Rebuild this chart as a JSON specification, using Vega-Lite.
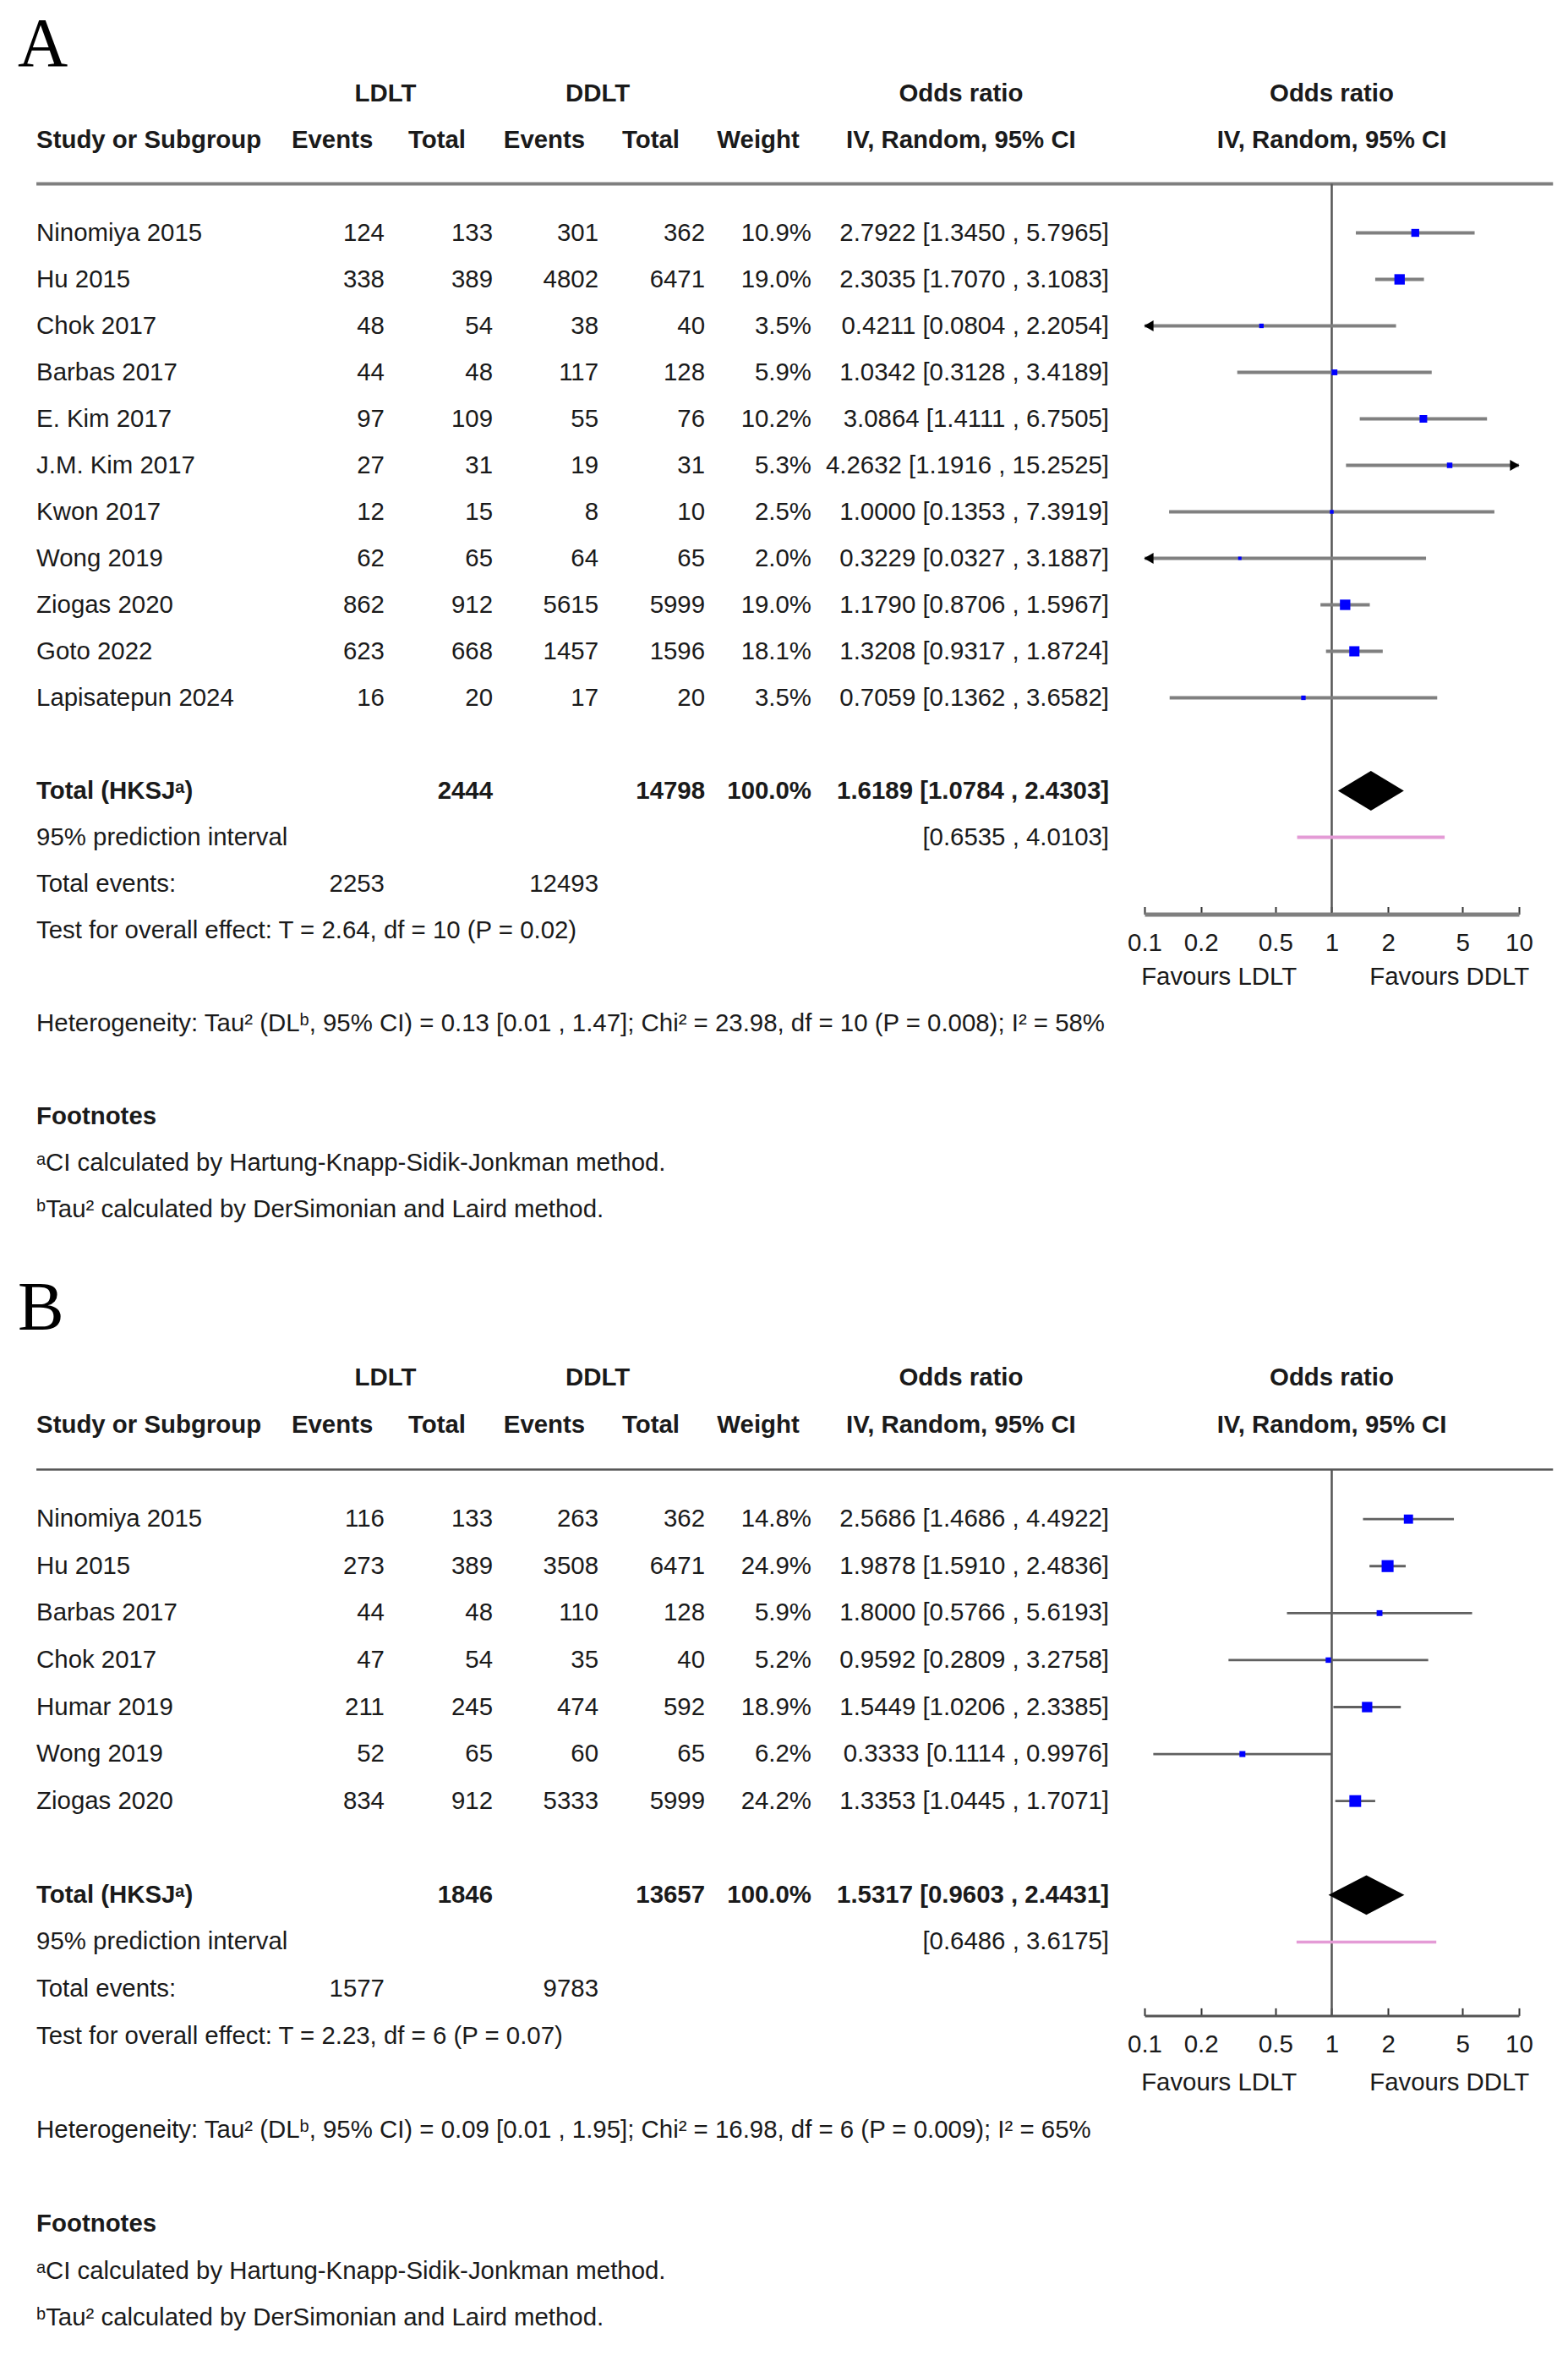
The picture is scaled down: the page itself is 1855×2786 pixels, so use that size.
{
"$schema":"https://vega.github.io/schema/vega-lite/v6.json",
"background":"white",
"padding":{"left":0,"top":11,"right":0,"bottom":0},
"bounds":"flush",
"columns":2,
"spacing":{"row":89,"column":0},
"datasets":{
"studiesA":[
{"study":"Ninomiya 2015","ev1":124,"tot1":133,"ev2":301,"tot2":362,"weight":0.109,"or":2.7922,"lo":1.3450,"hi":5.7965,"ci":"2.7922 [1.3450 , 5.7965]"},
{"study":"Hu 2015","ev1":338,"tot1":389,"ev2":4802,"tot2":6471,"weight":0.190,"or":2.3035,"lo":1.7070,"hi":3.1083,"ci":"2.3035 [1.7070 , 3.1083]"},
{"study":"Chok 2017","ev1":48,"tot1":54,"ev2":38,"tot2":40,"weight":0.035,"or":0.4211,"lo":0.0804,"hi":2.2054,"ci":"0.4211 [0.0804 , 2.2054]"},
{"study":"Barbas 2017","ev1":44,"tot1":48,"ev2":117,"tot2":128,"weight":0.059,"or":1.0342,"lo":0.3128,"hi":3.4189,"ci":"1.0342 [0.3128 , 3.4189]"},
{"study":"E. Kim 2017","ev1":97,"tot1":109,"ev2":55,"tot2":76,"weight":0.102,"or":3.0864,"lo":1.4111,"hi":6.7505,"ci":"3.0864 [1.4111 , 6.7505]"},
{"study":"J.M. Kim 2017","ev1":27,"tot1":31,"ev2":19,"tot2":31,"weight":0.053,"or":4.2632,"lo":1.1916,"hi":15.2525,"ci":"4.2632 [1.1916 , 15.2525]"},
{"study":"Kwon 2017","ev1":12,"tot1":15,"ev2":8,"tot2":10,"weight":0.025,"or":1.0000,"lo":0.1353,"hi":7.3919,"ci":"1.0000 [0.1353 , 7.3919]"},
{"study":"Wong 2019","ev1":62,"tot1":65,"ev2":64,"tot2":65,"weight":0.020,"or":0.3229,"lo":0.0327,"hi":3.1887,"ci":"0.3229 [0.0327 , 3.1887]"},
{"study":"Ziogas 2020","ev1":862,"tot1":912,"ev2":5615,"tot2":5999,"weight":0.190,"or":1.1790,"lo":0.8706,"hi":1.5967,"ci":"1.1790 [0.8706 , 1.5967]"},
{"study":"Goto 2022","ev1":623,"tot1":668,"ev2":1457,"tot2":1596,"weight":0.181,"or":1.3208,"lo":0.9317,"hi":1.8724,"ci":"1.3208 [0.9317 , 1.8724]"},
{"study":"Lapisatepun 2024","ev1":16,"tot1":20,"ev2":17,"tot2":20,"weight":0.035,"or":0.7059,"lo":0.1362,"hi":3.6582,"ci":"0.7059 [0.1362 , 3.6582]"}
],
"sumA":[{"tot1":2444,"tot2":14798,"weight":1,"ev1":2253,"ev2":12493,"lo":1.0784,"or":1.6189,"hi":2.4303,"ci":"1.6189 [1.0784 , 2.4303]","plo":0.6535,"phi":4.0103,"pi_text":"[0.6535 , 4.0103]","test":"Test for overall effect: T = 2.64, df = 10 (P = 0.02)","het":"Heterogeneity: Tau² (DLᵇ, 95% CI) = 0.13 [0.01 , 1.47]; Chi² = 23.98, df = 10 (P = 0.008); I² = 58%"}],
"studiesB":[
{"study":"Ninomiya 2015","ev1":116,"tot1":133,"ev2":263,"tot2":362,"weight":0.148,"or":2.5686,"lo":1.4686,"hi":4.4922,"ci":"2.5686 [1.4686 , 4.4922]"},
{"study":"Hu 2015","ev1":273,"tot1":389,"ev2":3508,"tot2":6471,"weight":0.249,"or":1.9878,"lo":1.5910,"hi":2.4836,"ci":"1.9878 [1.5910 , 2.4836]"},
{"study":"Barbas 2017","ev1":44,"tot1":48,"ev2":110,"tot2":128,"weight":0.059,"or":1.8000,"lo":0.5766,"hi":5.6193,"ci":"1.8000 [0.5766 , 5.6193]"},
{"study":"Chok 2017","ev1":47,"tot1":54,"ev2":35,"tot2":40,"weight":0.052,"or":0.9592,"lo":0.2809,"hi":3.2758,"ci":"0.9592 [0.2809 , 3.2758]"},
{"study":"Humar 2019","ev1":211,"tot1":245,"ev2":474,"tot2":592,"weight":0.189,"or":1.5449,"lo":1.0206,"hi":2.3385,"ci":"1.5449 [1.0206 , 2.3385]"},
{"study":"Wong 2019","ev1":52,"tot1":65,"ev2":60,"tot2":65,"weight":0.062,"or":0.3333,"lo":0.1114,"hi":0.9976,"ci":"0.3333 [0.1114 , 0.9976]"},
{"study":"Ziogas 2020","ev1":834,"tot1":912,"ev2":5333,"tot2":5999,"weight":0.242,"or":1.3353,"lo":1.0445,"hi":1.7071,"ci":"1.3353 [1.0445 , 1.7071]"}
],
"sumB":[{"tot1":1846,"tot2":13657,"weight":1,"ev1":1577,"ev2":9783,"lo":0.9603,"or":1.5317,"hi":2.4431,"ci":"1.5317 [0.9603 , 2.4431]","plo":0.6486,"phi":3.6175,"pi_text":"[0.6486 , 3.6175]","test":"Test for overall effect: T = 2.23, df = 6 (P = 0.07)","het":"Heterogeneity: Tau² (DLᵇ, 95% CI) = 0.09 [0.01 , 1.95]; Chi² = 16.98, df = 6 (P = 0.009); I² = 65%"}]
},
"concat":[
{"width":1354,"height":1430,
"layer":[
{"data":{"name":"sumA"},"mark":{"type":"text","text":"A","font":"Liberation Serif","fontSize":82,"align":"left","yOffset":-3,"color":"#000"},
 "encoding":{"x":{"datum":1.55,"type":"quantitative","scale":{"domain":[0,100]},"axis":null},
  "y":{"datum":"lbl","type":"nominal","scale":{"type":"band","domain":["lbl","hdr1","hdr2","rule","Ninomiya 2015","Hu 2015","Chok 2017","Barbas 2017","E. Kim 2017","J.M. Kim 2017","Kwon 2017","Wong 2019","Ziogas 2020","Goto 2022","Lapisatepun 2024","gap1","total","pi","te","test","gap2","het","gap3","fn","fna","fnb"],"paddingInner":0,"paddingOuter":0},"axis":null}}},
{"data":{"name":"sumA"},"mark":{"type":"text","text":"LDLT","fontWeight":"bold","align":"center"},"encoding":{"x":{"datum":33.68},"y":{"datum":"hdr1"}}},
{"data":{"name":"sumA"},"mark":{"type":"text","text":"DDLT","fontWeight":"bold","align":"center"},"encoding":{"x":{"datum":52.22},"y":{"datum":"hdr1"}}},
{"data":{"name":"sumA"},"mark":{"type":"text","text":"Odds ratio","fontWeight":"bold","align":"center"},"encoding":{"x":{"datum":83.97},"y":{"datum":"hdr1"}}},
{"data":{"name":"sumA"},"mark":{"type":"text","text":"Study or Subgroup","fontWeight":"bold","align":"left"},"encoding":{"x":{"datum":3.18},"y":{"datum":"hdr2"}}},
{"data":{"name":"sumA"},"mark":{"type":"text","text":"Events","fontWeight":"bold","align":"center"},"encoding":{"x":{"datum":29.03},"y":{"datum":"hdr2"}}},
{"data":{"name":"sumA"},"mark":{"type":"text","text":"Total","fontWeight":"bold","align":"center"},"encoding":{"x":{"datum":38.18},"y":{"datum":"hdr2"}}},
{"data":{"name":"sumA"},"mark":{"type":"text","text":"Events","fontWeight":"bold","align":"center"},"encoding":{"x":{"datum":47.56},"y":{"datum":"hdr2"}}},
{"data":{"name":"sumA"},"mark":{"type":"text","text":"Total","fontWeight":"bold","align":"center"},"encoding":{"x":{"datum":56.87},"y":{"datum":"hdr2"}}},
{"data":{"name":"sumA"},"mark":{"type":"text","text":"Weight","fontWeight":"bold","align":"center"},"encoding":{"x":{"datum":66.25},"y":{"datum":"hdr2"}}},
{"data":{"name":"sumA"},"mark":{"type":"text","text":"IV, Random, 95% CI","fontWeight":"bold","align":"center"},"encoding":{"x":{"datum":83.97},"y":{"datum":"hdr2"}}},
{"data":{"name":"sumA"},"mark":{"type":"rule","color":"#7f7f7f","strokeWidth":4,"yOffset":-3},"encoding":{"x":{"datum":3.18},"x2":{"datum":100},"y":{"datum":"rule"}}},
{"data":{"name":"studiesA"},"mark":{"type":"text","align":"left"},"encoding":{"x":{"datum":3.18},"y":{"field":"study","type":"nominal"},"text":{"field":"study","type":"nominal"}}},
{"data":{"name":"studiesA"},"mark":{"type":"text","align":"right"},"encoding":{"x":{"datum":33.60},"y":{"field":"study","type":"nominal"},"text":{"field":"ev1","type":"quantitative","format":"d"}}},
{"data":{"name":"studiesA"},"mark":{"type":"text","align":"right"},"encoding":{"x":{"datum":43.06},"y":{"field":"study","type":"nominal"},"text":{"field":"tot1","type":"quantitative","format":"d"}}},
{"data":{"name":"studiesA"},"mark":{"type":"text","align":"right"},"encoding":{"x":{"datum":52.29},"y":{"field":"study","type":"nominal"},"text":{"field":"ev2","type":"quantitative","format":"d"}}},
{"data":{"name":"studiesA"},"mark":{"type":"text","align":"right"},"encoding":{"x":{"datum":61.60},"y":{"field":"study","type":"nominal"},"text":{"field":"tot2","type":"quantitative","format":"d"}}},
{"data":{"name":"studiesA"},"mark":{"type":"text","align":"right"},"encoding":{"x":{"datum":70.90},"y":{"field":"study","type":"nominal"},"text":{"field":"weight","type":"quantitative","format":".1%"}}},
{"data":{"name":"studiesA"},"mark":{"type":"text","align":"right"},"encoding":{"x":{"datum":96.90},"y":{"field":"study","type":"nominal"},"text":{"field":"ci","type":"nominal"}}},
{"data":{"name":"sumA"},"mark":{"type":"text","text":"Total (HKSJᵃ)","fontWeight":"bold","align":"left"},"encoding":{"x":{"datum":3.18},"y":{"datum":"total"}}},
{"data":{"name":"sumA"},"mark":{"type":"text","fontWeight":"bold","align":"right"},"encoding":{"x":{"datum":43.06},"y":{"datum":"total"},"text":{"field":"tot1","type":"quantitative","format":"d"}}},
{"data":{"name":"sumA"},"mark":{"type":"text","fontWeight":"bold","align":"right"},"encoding":{"x":{"datum":61.60},"y":{"datum":"total"},"text":{"field":"tot2","type":"quantitative","format":"d"}}},
{"data":{"name":"sumA"},"mark":{"type":"text","fontWeight":"bold","align":"right"},"encoding":{"x":{"datum":70.90},"y":{"datum":"total"},"text":{"field":"weight","type":"quantitative","format":".1%"}}},
{"data":{"name":"sumA"},"mark":{"type":"text","fontWeight":"bold","align":"right"},"encoding":{"x":{"datum":96.90},"y":{"datum":"total"},"text":{"field":"ci","type":"nominal"}}},
{"data":{"name":"sumA"},"mark":{"type":"text","text":"95% prediction interval","align":"left"},"encoding":{"x":{"datum":3.18},"y":{"datum":"pi"}}},
{"data":{"name":"sumA"},"mark":{"type":"text","align":"right"},"encoding":{"x":{"datum":96.90},"y":{"datum":"pi"},"text":{"field":"pi_text","type":"nominal"}}},
{"data":{"name":"sumA"},"mark":{"type":"text","text":"Total events:","align":"left"},"encoding":{"x":{"datum":3.18},"y":{"datum":"te"}}},
{"data":{"name":"sumA"},"mark":{"type":"text","align":"right"},"encoding":{"x":{"datum":33.60},"y":{"datum":"te"},"text":{"field":"ev1","type":"quantitative","format":"d"}}},
{"data":{"name":"sumA"},"mark":{"type":"text","align":"right"},"encoding":{"x":{"datum":52.29},"y":{"datum":"te"},"text":{"field":"ev2","type":"quantitative","format":"d"}}},
{"data":{"name":"sumA"},"mark":{"type":"text","align":"left"},"encoding":{"x":{"datum":3.18},"y":{"datum":"test"},"text":{"field":"test","type":"nominal"}}},
{"data":{"name":"sumA"},"mark":{"type":"text","align":"left"},"encoding":{"x":{"datum":3.18},"y":{"datum":"het"},"text":{"field":"het","type":"nominal"}}},
{"data":{"name":"sumA"},"mark":{"type":"text","text":"Footnotes","fontWeight":"bold","align":"left"},"encoding":{"x":{"datum":3.18},"y":{"datum":"fn"}}},
{"data":{"name":"sumA"},"mark":{"type":"text","text":"ᵃCI calculated by Hartung-Knapp-Sidik-Jonkman method.","align":"left"},"encoding":{"x":{"datum":3.18},"y":{"datum":"fna"}}},
{"data":{"name":"sumA"},"mark":{"type":"text","text":"ᵇTau² calculated by DerSimonian and Laird method.","align":"left"},"encoding":{"x":{"datum":3.18},"y":{"datum":"fnb"}}}
]},
{"width":443,"height":1155,
"layer":[
{"data":{"name":"sumA"},"mark":{"type":"rule","color":"#7f7f7f","strokeWidth":4,"yOffset":-3},
 "encoding":{"x":{"datum":0.1,"type":"quantitative","scale":{"type":"log","domain":[0.1,10],"nice":false},
   "axis":{"values":[0.1,0.2,0.5,1,2,5,10],"format":"~g","offset":-101.5,"domainColor":"#7f7f7f","domainWidth":5,"tickColor":"#333333","tickWidth":2,"tickSize":-9,"labelFont":"Liberation Sans","labelFontSize":29.5,"labelColor":"#1a1a1a","labelPadding":29,"labelFlush":false,"labelOverlap":false,"grid":false,"title":null}},
  "x2":{"datum":15.2},
  "y":{"datum":"rule","type":"nominal","scale":{"type":"band","domain":["lbl","hdr1","hdr2","rule","Ninomiya 2015","Hu 2015","Chok 2017","Barbas 2017","E. Kim 2017","J.M. Kim 2017","Kwon 2017","Wong 2019","Ziogas 2020","Goto 2022","Lapisatepun 2024","gap1","total","pi","te","test","gap2"],"paddingInner":0,"paddingOuter":0},"axis":null}}},
{"data":{"name":"sumA"},"mark":{"type":"rule","color":"#555555","strokeWidth":2.5,"yOffset":-3,"y2Offset":34},"encoding":{"x":{"datum":1},"y":{"datum":"rule"},"y2":{"datum":"te"}}},
{"data":{"name":"sumA"},"mark":{"type":"text","text":"Odds ratio","fontWeight":"bold","align":"center"},"encoding":{"x":{"datum":1},"y":{"datum":"hdr1"}}},
{"data":{"name":"sumA"},"mark":{"type":"text","text":"IV, Random, 95% CI","fontWeight":"bold","align":"center"},"encoding":{"x":{"datum":1},"y":{"datum":"hdr2"}}},
{"data":{"name":"studiesA"},"mark":{"type":"rule","color":"#808080","strokeWidth":4,"clip":true},"encoding":{"x":{"field":"lo","type":"quantitative"},"x2":{"field":"hi"},"y":{"field":"study","type":"nominal"}}},
{"data":{"name":"studiesA"},"transform":[{"filter":"datum.lo < 0.1"}],"mark":{"type":"point","shape":"triangle-left","filled":true,"color":"#000000","opacity":1,"size":170,"xOffset":5},"encoding":{"x":{"datum":0.1},"y":{"field":"study","type":"nominal"}}},
{"data":{"name":"studiesA"},"transform":[{"filter":"datum.hi > 10"}],"mark":{"type":"point","shape":"triangle-right","filled":true,"color":"#000000","opacity":1,"size":170,"xOffset":-5},"encoding":{"x":{"datum":10},"y":{"field":"study","type":"nominal"}}},
{"data":{"name":"studiesA"},"mark":{"type":"point","shape":"square","filled":true,"color":"#0000ff","opacity":1},"encoding":{"x":{"field":"or","type":"quantitative"},"y":{"field":"study","type":"nominal"},"size":{"field":"weight","type":"quantitative","scale":{"domain":[0,1],"range":[0,800]},"legend":null}}},
{"data":{"name":"sumA"},"mark":{"type":"point","shape":"M-1,0L0,-0.6L1,0L0,0.6Z","filled":true,"color":"#000000","opacity":1,"size":6084,"strokeWidth":0},"encoding":{"x":{"field":"or","type":"quantitative"},"y":{"datum":"total"}}},
{"data":{"name":"sumA"},"mark":{"type":"rule","color":"#e49bd6","strokeWidth":4},"encoding":{"x":{"field":"plo","type":"quantitative"},"x2":{"field":"phi"},"y":{"datum":"pi"}}},
{"data":{"name":"sumA"},"mark":{"type":"text","text":"Favours LDLT","align":"center"},"encoding":{"x":{"datum":0.25},"y":{"datum":"gap2"}}},
{"data":{"name":"sumA"},"mark":{"type":"text","text":"Favours DDLT","align":"center"},"encoding":{"x":{"datum":4.25},"y":{"datum":"gap2"}}}
]},
{"width":1354,"height":1223,
"layer":[
{"data":{"name":"sumB"},"mark":{"type":"text","text":"B","font":"Liberation Serif","fontSize":82,"align":"left","yOffset":-27,"color":"#000"},
 "encoding":{"x":{"datum":1.55,"type":"quantitative","scale":{"domain":[0,100]},"axis":null},
  "y":{"datum":"lbl","type":"nominal","scale":{"type":"band","domain":["lbl","hdr1","hdr2","rule","Ninomiya 2015","Hu 2015","Barbas 2017","Chok 2017","Humar 2019","Wong 2019","Ziogas 2020","gap1","total","pi","te","test","gap2","het","gap3","fn","fna","fnb"],"paddingInner":0,"paddingOuter":0},"axis":null}}},
{"data":{"name":"sumB"},"mark":{"type":"text","text":"LDLT","fontWeight":"bold","align":"center"},"encoding":{"x":{"datum":33.68},"y":{"datum":"hdr1"}}},
{"data":{"name":"sumB"},"mark":{"type":"text","text":"DDLT","fontWeight":"bold","align":"center"},"encoding":{"x":{"datum":52.22},"y":{"datum":"hdr1"}}},
{"data":{"name":"sumB"},"mark":{"type":"text","text":"Odds ratio","fontWeight":"bold","align":"center"},"encoding":{"x":{"datum":83.97},"y":{"datum":"hdr1"}}},
{"data":{"name":"sumB"},"mark":{"type":"text","text":"Study or Subgroup","fontWeight":"bold","align":"left"},"encoding":{"x":{"datum":3.18},"y":{"datum":"hdr2"}}},
{"data":{"name":"sumB"},"mark":{"type":"text","text":"Events","fontWeight":"bold","align":"center"},"encoding":{"x":{"datum":29.03},"y":{"datum":"hdr2"}}},
{"data":{"name":"sumB"},"mark":{"type":"text","text":"Total","fontWeight":"bold","align":"center"},"encoding":{"x":{"datum":38.18},"y":{"datum":"hdr2"}}},
{"data":{"name":"sumB"},"mark":{"type":"text","text":"Events","fontWeight":"bold","align":"center"},"encoding":{"x":{"datum":47.56},"y":{"datum":"hdr2"}}},
{"data":{"name":"sumB"},"mark":{"type":"text","text":"Total","fontWeight":"bold","align":"center"},"encoding":{"x":{"datum":56.87},"y":{"datum":"hdr2"}}},
{"data":{"name":"sumB"},"mark":{"type":"text","text":"Weight","fontWeight":"bold","align":"center"},"encoding":{"x":{"datum":66.25},"y":{"datum":"hdr2"}}},
{"data":{"name":"sumB"},"mark":{"type":"text","text":"IV, Random, 95% CI","fontWeight":"bold","align":"center"},"encoding":{"x":{"datum":83.97},"y":{"datum":"hdr2"}}},
{"data":{"name":"sumB"},"mark":{"type":"rule","color":"#555555","strokeWidth":2.5,"yOffset":-3},"encoding":{"x":{"datum":3.18},"x2":{"datum":100},"y":{"datum":"rule"}}},
{"data":{"name":"studiesB"},"mark":{"type":"text","align":"left"},"encoding":{"x":{"datum":3.18},"y":{"field":"study","type":"nominal"},"text":{"field":"study","type":"nominal"}}},
{"data":{"name":"studiesB"},"mark":{"type":"text","align":"right"},"encoding":{"x":{"datum":33.60},"y":{"field":"study","type":"nominal"},"text":{"field":"ev1","type":"quantitative","format":"d"}}},
{"data":{"name":"studiesB"},"mark":{"type":"text","align":"right"},"encoding":{"x":{"datum":43.06},"y":{"field":"study","type":"nominal"},"text":{"field":"tot1","type":"quantitative","format":"d"}}},
{"data":{"name":"studiesB"},"mark":{"type":"text","align":"right"},"encoding":{"x":{"datum":52.29},"y":{"field":"study","type":"nominal"},"text":{"field":"ev2","type":"quantitative","format":"d"}}},
{"data":{"name":"studiesB"},"mark":{"type":"text","align":"right"},"encoding":{"x":{"datum":61.60},"y":{"field":"study","type":"nominal"},"text":{"field":"tot2","type":"quantitative","format":"d"}}},
{"data":{"name":"studiesB"},"mark":{"type":"text","align":"right"},"encoding":{"x":{"datum":70.90},"y":{"field":"study","type":"nominal"},"text":{"field":"weight","type":"quantitative","format":".1%"}}},
{"data":{"name":"studiesB"},"mark":{"type":"text","align":"right"},"encoding":{"x":{"datum":96.90},"y":{"field":"study","type":"nominal"},"text":{"field":"ci","type":"nominal"}}},
{"data":{"name":"sumB"},"mark":{"type":"text","text":"Total (HKSJᵃ)","fontWeight":"bold","align":"left"},"encoding":{"x":{"datum":3.18},"y":{"datum":"total"}}},
{"data":{"name":"sumB"},"mark":{"type":"text","fontWeight":"bold","align":"right"},"encoding":{"x":{"datum":43.06},"y":{"datum":"total"},"text":{"field":"tot1","type":"quantitative","format":"d"}}},
{"data":{"name":"sumB"},"mark":{"type":"text","fontWeight":"bold","align":"right"},"encoding":{"x":{"datum":61.60},"y":{"datum":"total"},"text":{"field":"tot2","type":"quantitative","format":"d"}}},
{"data":{"name":"sumB"},"mark":{"type":"text","fontWeight":"bold","align":"right"},"encoding":{"x":{"datum":70.90},"y":{"datum":"total"},"text":{"field":"weight","type":"quantitative","format":".1%"}}},
{"data":{"name":"sumB"},"mark":{"type":"text","fontWeight":"bold","align":"right"},"encoding":{"x":{"datum":96.90},"y":{"datum":"total"},"text":{"field":"ci","type":"nominal"}}},
{"data":{"name":"sumB"},"mark":{"type":"text","text":"95% prediction interval","align":"left"},"encoding":{"x":{"datum":3.18},"y":{"datum":"pi"}}},
{"data":{"name":"sumB"},"mark":{"type":"text","align":"right"},"encoding":{"x":{"datum":96.90},"y":{"datum":"pi"},"text":{"field":"pi_text","type":"nominal"}}},
{"data":{"name":"sumB"},"mark":{"type":"text","text":"Total events:","align":"left"},"encoding":{"x":{"datum":3.18},"y":{"datum":"te"}}},
{"data":{"name":"sumB"},"mark":{"type":"text","align":"right"},"encoding":{"x":{"datum":33.60},"y":{"datum":"te"},"text":{"field":"ev1","type":"quantitative","format":"d"}}},
{"data":{"name":"sumB"},"mark":{"type":"text","align":"right"},"encoding":{"x":{"datum":52.29},"y":{"datum":"te"},"text":{"field":"ev2","type":"quantitative","format":"d"}}},
{"data":{"name":"sumB"},"mark":{"type":"text","align":"left"},"encoding":{"x":{"datum":3.18},"y":{"datum":"test"},"text":{"field":"test","type":"nominal"}}},
{"data":{"name":"sumB"},"mark":{"type":"text","align":"left"},"encoding":{"x":{"datum":3.18},"y":{"datum":"het"},"text":{"field":"het","type":"nominal"}}},
{"data":{"name":"sumB"},"mark":{"type":"text","text":"Footnotes","fontWeight":"bold","align":"left"},"encoding":{"x":{"datum":3.18},"y":{"datum":"fn"}}},
{"data":{"name":"sumB"},"mark":{"type":"text","text":"ᵃCI calculated by Hartung-Knapp-Sidik-Jonkman method.","align":"left"},"encoding":{"x":{"datum":3.18},"y":{"datum":"fna"}}},
{"data":{"name":"sumB"},"mark":{"type":"text","text":"ᵇTau² calculated by DerSimonian and Laird method.","align":"left"},"encoding":{"x":{"datum":3.18},"y":{"datum":"fnb"}}}
]},
{"width":443,"height":945,
"layer":[
{"data":{"name":"sumB"},"mark":{"type":"rule","color":"#555555","strokeWidth":2.5,"yOffset":-3},
 "encoding":{"x":{"datum":0.1,"type":"quantitative","scale":{"type":"log","domain":[0.1,10],"nice":false},
   "axis":{"values":[0.1,0.2,0.5,1,2,5,10],"format":"~g","offset":-107.6,"domainColor":"#555555","domainWidth":3,"tickColor":"#333333","tickWidth":2,"tickSize":-9,"labelFont":"Liberation Sans","labelFontSize":29.5,"labelColor":"#1a1a1a","labelPadding":29,"labelFlush":false,"labelOverlap":false,"grid":false,"title":null}},
  "x2":{"datum":15.2},
  "y":{"datum":"rule","type":"nominal","scale":{"type":"band","domain":["lbl","hdr1","hdr2","rule","Ninomiya 2015","Hu 2015","Barbas 2017","Chok 2017","Humar 2019","Wong 2019","Ziogas 2020","gap1","total","pi","te","test","gap2"],"paddingInner":0,"paddingOuter":0},"axis":null}}},
{"data":{"name":"sumB"},"mark":{"type":"rule","color":"#555555","strokeWidth":2.5,"yOffset":-3,"y2Offset":31},"encoding":{"x":{"datum":1},"y":{"datum":"rule"},"y2":{"datum":"te"}}},
{"data":{"name":"sumB"},"mark":{"type":"text","text":"Odds ratio","fontWeight":"bold","align":"center"},"encoding":{"x":{"datum":1},"y":{"datum":"hdr1"}}},
{"data":{"name":"sumB"},"mark":{"type":"text","text":"IV, Random, 95% CI","fontWeight":"bold","align":"center"},"encoding":{"x":{"datum":1},"y":{"datum":"hdr2"}}},
{"data":{"name":"studiesB"},"mark":{"type":"rule","color":"#606060","strokeWidth":2.8,"clip":true},"encoding":{"x":{"field":"lo","type":"quantitative"},"x2":{"field":"hi"},"y":{"field":"study","type":"nominal"}}},
{"data":{"name":"studiesB"},"transform":[{"filter":"datum.lo < 0.1"}],"mark":{"type":"point","shape":"triangle-left","filled":true,"color":"#000000","opacity":1,"size":170,"xOffset":5},"encoding":{"x":{"datum":0.1},"y":{"field":"study","type":"nominal"}}},
{"data":{"name":"studiesB"},"transform":[{"filter":"datum.hi > 10"}],"mark":{"type":"point","shape":"triangle-right","filled":true,"color":"#000000","opacity":1,"size":170,"xOffset":-5},"encoding":{"x":{"datum":10},"y":{"field":"study","type":"nominal"}}},
{"data":{"name":"studiesB"},"mark":{"type":"point","shape":"square","filled":true,"color":"#0000ff","opacity":1},"encoding":{"x":{"field":"or","type":"quantitative"},"y":{"field":"study","type":"nominal"},"size":{"field":"weight","type":"quantitative","scale":{"domain":[0,1],"range":[0,800]},"legend":null}}},
{"data":{"name":"sumB"},"mark":{"type":"point","shape":"M-1,0L0,-0.52L1,0L0,0.52Z","filled":true,"color":"#000000","opacity":1,"size":8064,"strokeWidth":0},"encoding":{"x":{"field":"or","type":"quantitative"},"y":{"datum":"total"}}},
{"data":{"name":"sumB"},"mark":{"type":"rule","color":"#e49bd6","strokeWidth":3.5},"encoding":{"x":{"field":"plo","type":"quantitative"},"x2":{"field":"phi"},"y":{"datum":"pi"}}},
{"data":{"name":"sumB"},"mark":{"type":"text","text":"Favours LDLT","align":"center"},"encoding":{"x":{"datum":0.25},"y":{"datum":"gap2"}}},
{"data":{"name":"sumB"},"mark":{"type":"text","text":"Favours DDLT","align":"center"},"encoding":{"x":{"datum":4.25},"y":{"datum":"gap2"}}}
]}
],
"config":{"view":{"stroke":null},"text":{"font":"Liberation Sans","fontSize":29.4,"color":"#1a1a1a","baseline":"middle"}}
}
